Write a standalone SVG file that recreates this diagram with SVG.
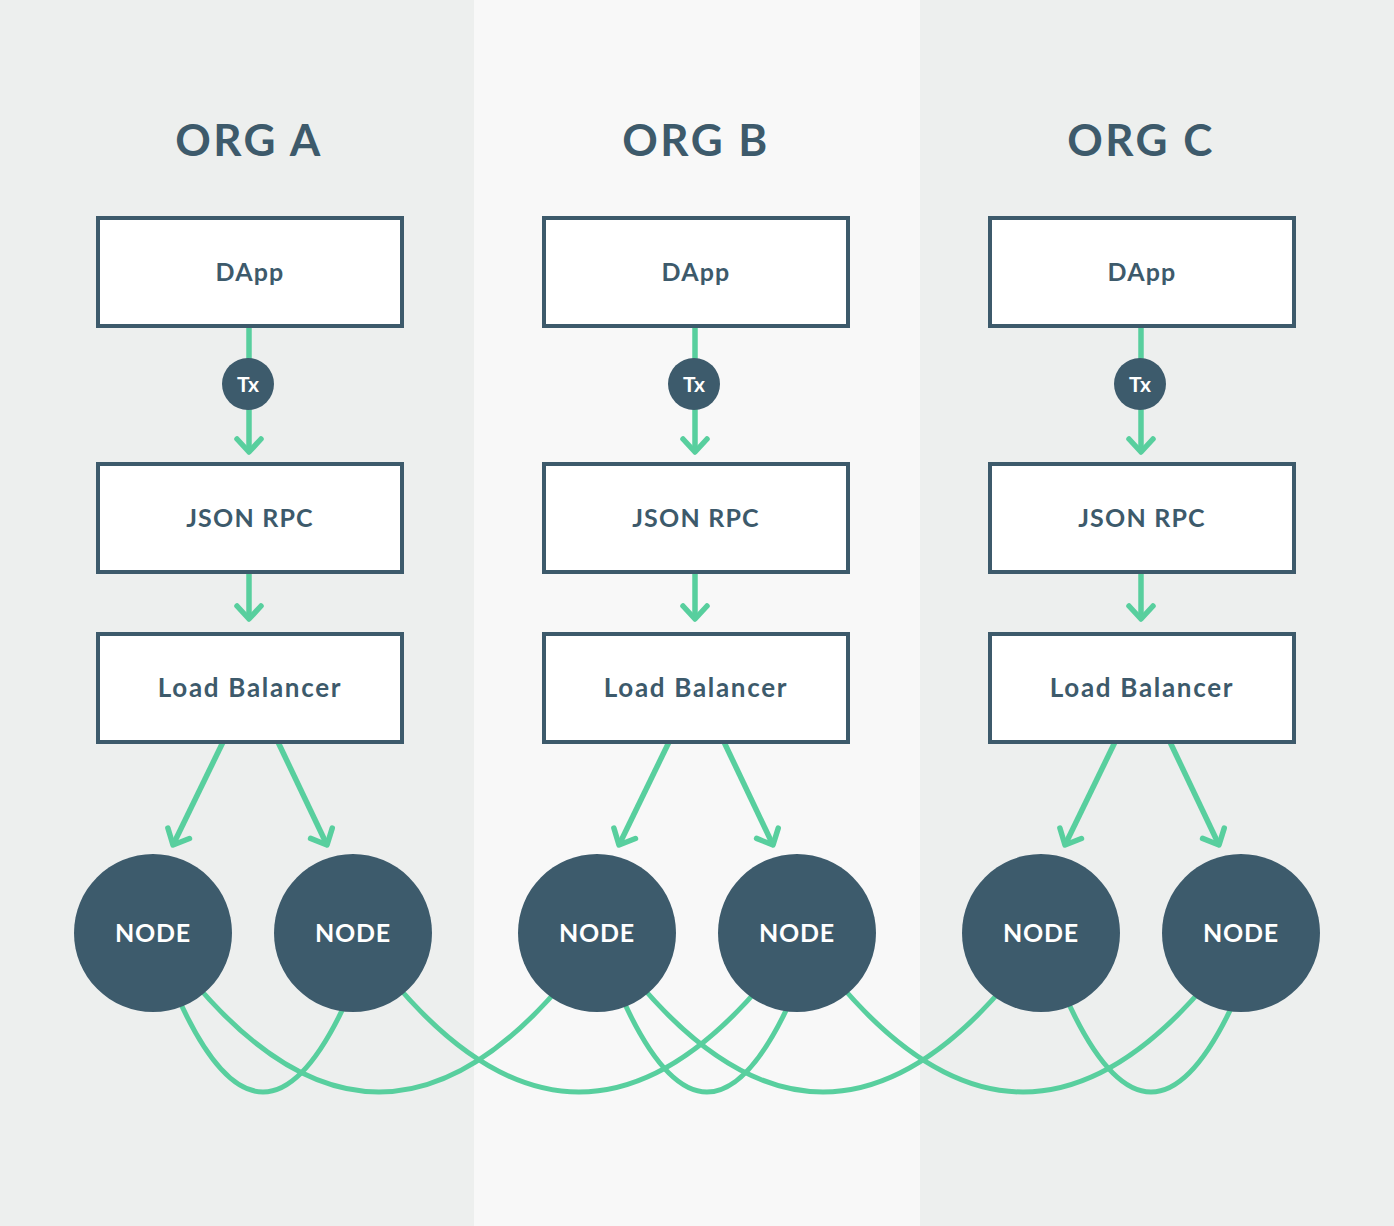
<svg xmlns="http://www.w3.org/2000/svg" width="1394" height="1226" viewBox="0 0 1394 1226">
<style>
.box{fill:#ffffff;stroke:#3d5a6b;stroke-width:4}
.lbl{font-family:Lato,"Open Sans","DejaVu Sans",sans-serif;font-weight:700;fill:#3d5a6b;font-size:25px;text-anchor:middle;letter-spacing:1.2px}
.lb{font-size:26px;letter-spacing:1.7px}
.title{font-family:Lato,"Open Sans","DejaVu Sans",sans-serif;font-weight:700;fill:#3d5a6b;font-size:44px;text-anchor:middle;letter-spacing:2.5px}
.node{fill:#3d5b6c}
.ntx{font-family:Lato,"Open Sans","DejaVu Sans",sans-serif;font-weight:700;fill:#ffffff;font-size:25px;text-anchor:middle;letter-spacing:0.8px}
.tx{font-family:Lato,"Open Sans","DejaVu Sans",sans-serif;font-weight:700;fill:#ffffff;font-size:21px;text-anchor:middle}
.ln{fill:none;stroke:#58cf9e;stroke-width:5}
.arr{fill:none;stroke:#58cf9e;stroke-width:5.5;marker-end:url(#ah)}
</style>
<defs>
<marker id="ah" markerUnits="userSpaceOnUse" viewBox="-16 -16 20 32" refX="0" refY="0" markerWidth="20" markerHeight="32" orient="auto" overflow="visible">
<path d="M-13,-12 L0,0 L-13,12" fill="none" stroke="#58cf9e" stroke-width="5.5" stroke-linecap="round" stroke-linejoin="round"/>
</marker>
</defs>
<g id="background">
<rect x="0" y="0" width="474" height="1226" fill="#edefee"/>
<rect x="474" y="0" width="446" height="1226" fill="#f8f8f8"/>
<rect x="920" y="0" width="474" height="1226" fill="#edefee"/>
</g>
<g id="titles">
<text class="title" x="249" y="156">ORG A</text>
<text class="title" x="696" y="156">ORG B</text>
<text class="title" x="1141" y="156">ORG C</text>
</g>
<g id="connectors">
<line class="arr" x1="249" y1="326" x2="249" y2="452"/>
<line class="arr" x1="695" y1="326" x2="695" y2="452"/>
<line class="arr" x1="1141" y1="326" x2="1141" y2="452"/>
<line class="arr" x1="249" y1="572" x2="249" y2="619"/>
<line class="arr" x1="695" y1="572" x2="695" y2="619"/>
<line class="arr" x1="1141" y1="572" x2="1141" y2="619"/>
<line class="arr" x1="223" y1="742" x2="173" y2="845"/>
<line class="arr" x1="278" y1="742" x2="327" y2="845"/>
<line class="arr" x1="669" y1="742" x2="619" y2="845"/>
<line class="arr" x1="724" y1="742" x2="773" y2="845"/>
<line class="arr" x1="1115" y1="742" x2="1065" y2="845"/>
<line class="arr" x1="1170" y1="742" x2="1219" y2="845"/>
<path class="ln" d="M175,991 Q263,1193 351,991"/>
<path class="ln" d="M619,991 Q707,1193 795,991"/>
<path class="ln" d="M1063,991 Q1151,1193 1239,991"/>
<path class="ln" d="M194,982 Q379,1202 564,982"/>
<path class="ln" d="M394,982 Q579,1202 764,982"/>
<path class="ln" d="M638,982 Q823,1202 1008,982"/>
<path class="ln" d="M838,982 Q1023,1202 1208,982"/>
</g>
<g id="tx-a"><circle class="node" cx="248" cy="384" r="26"/><text class="tx" x="248" y="391.5">Tx</text></g>
<g id="tx-b"><circle class="node" cx="694" cy="384" r="26"/><text class="tx" x="694" y="391.5">Tx</text></g>
<g id="tx-c"><circle class="node" cx="1140" cy="384" r="26"/><text class="tx" x="1140" y="391.5">Tx</text></g>
<g id="dapp-a"><rect class="box" x="98" y="218" width="304" height="108"/><text class="lbl" x="250" y="281">DApp</text></g>
<g id="dapp-b"><rect class="box" x="544" y="218" width="304" height="108"/><text class="lbl" x="696" y="281">DApp</text></g>
<g id="dapp-c"><rect class="box" x="990" y="218" width="304" height="108"/><text class="lbl" x="1142" y="281">DApp</text></g>
<g id="rpc-a"><rect class="box" x="98" y="464" width="304" height="108"/><text class="lbl" x="250" y="527">JSON RPC</text></g>
<g id="rpc-b"><rect class="box" x="544" y="464" width="304" height="108"/><text class="lbl" x="696" y="527">JSON RPC</text></g>
<g id="rpc-c"><rect class="box" x="990" y="464" width="304" height="108"/><text class="lbl" x="1142" y="527">JSON RPC</text></g>
<g id="lb-a"><rect class="box" x="98" y="634" width="304" height="108"/><text class="lbl lb" x="250" y="697">Load Balancer</text></g>
<g id="lb-b"><rect class="box" x="544" y="634" width="304" height="108"/><text class="lbl lb" x="696" y="697">Load Balancer</text></g>
<g id="lb-c"><rect class="box" x="990" y="634" width="304" height="108"/><text class="lbl lb" x="1142" y="697">Load Balancer</text></g>
<g id="node-a1"><circle class="node" cx="153" cy="933" r="79"/><text class="ntx" x="153" y="942">NODE</text></g>
<g id="node-a2"><circle class="node" cx="353" cy="933" r="79"/><text class="ntx" x="353" y="942">NODE</text></g>
<g id="node-b1"><circle class="node" cx="597" cy="933" r="79"/><text class="ntx" x="597" y="942">NODE</text></g>
<g id="node-b2"><circle class="node" cx="797" cy="933" r="79"/><text class="ntx" x="797" y="942">NODE</text></g>
<g id="node-c1"><circle class="node" cx="1041" cy="933" r="79"/><text class="ntx" x="1041" y="942">NODE</text></g>
<g id="node-c2"><circle class="node" cx="1241" cy="933" r="79"/><text class="ntx" x="1241" y="942">NODE</text></g>
</svg>
